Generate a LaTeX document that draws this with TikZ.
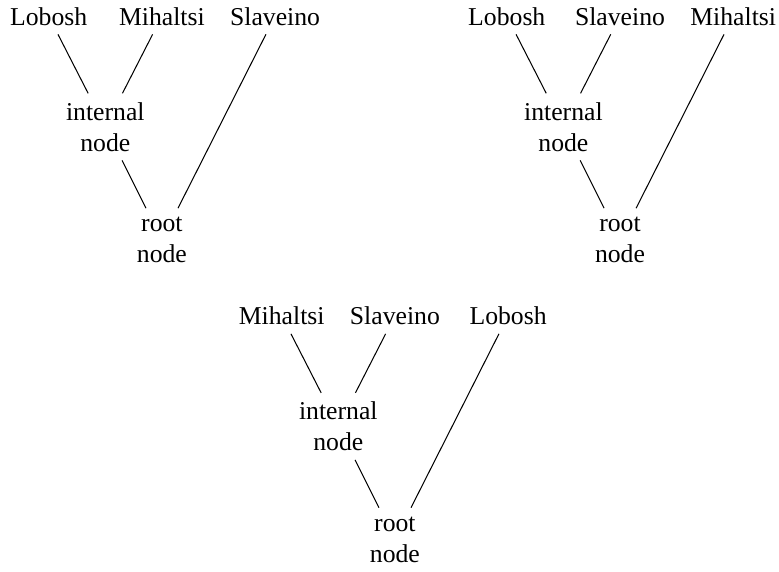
\documentclass[tikz,border=0pt]{standalone}
\usepackage{fontspec}
\setmainfont{Liberation Serif}
\begin{document}
\begin{tikzpicture}[x=0.3891pt, y=-0.3891pt,
  leaf/.style={anchor=base},
  joint/.style={align=center, anchor=south},
  edge/.style={line width=0.4pt}]
\useasboundingbox (0,0) rectangle (779,571);
% #1 name prefix, #2/#3 offset, #4-#6 the three leaves from left to right
\newcommand\phylotree[6]{%
  \begin{scope}[shift={(#2,#3)}]
    \node[leaf]  (#1a) at (48.7,25)    {#4};
    \node[leaf]  (#1b) at (161.9,25)   {#5};
    \node[leaf]  (#1c) at (275.1,25)   {#6};
    \node[joint] (#1i) at (105.3,160.4) {internal\\node};
    \node[joint] (#1r) at (161.9,271.9) {root\\node};
    \draw[edge] (#1a) -- (#1i);
    \draw[edge] (#1b) -- (#1i);
    \draw[edge] (#1i) -- (#1r);
    \draw[edge] (#1c) -- (#1r);
  \end{scope}}
\phylotree{ta}{0}{0}{Lobosh}{Mihaltsi}{Slaveino}
\phylotree{tb}{458.1}{0}{Lobosh}{Slaveino}{Mihaltsi}
\phylotree{tc}{233}{299.5}{Mihaltsi}{Slaveino}{Lobosh}
\end{tikzpicture}
\end{document}
